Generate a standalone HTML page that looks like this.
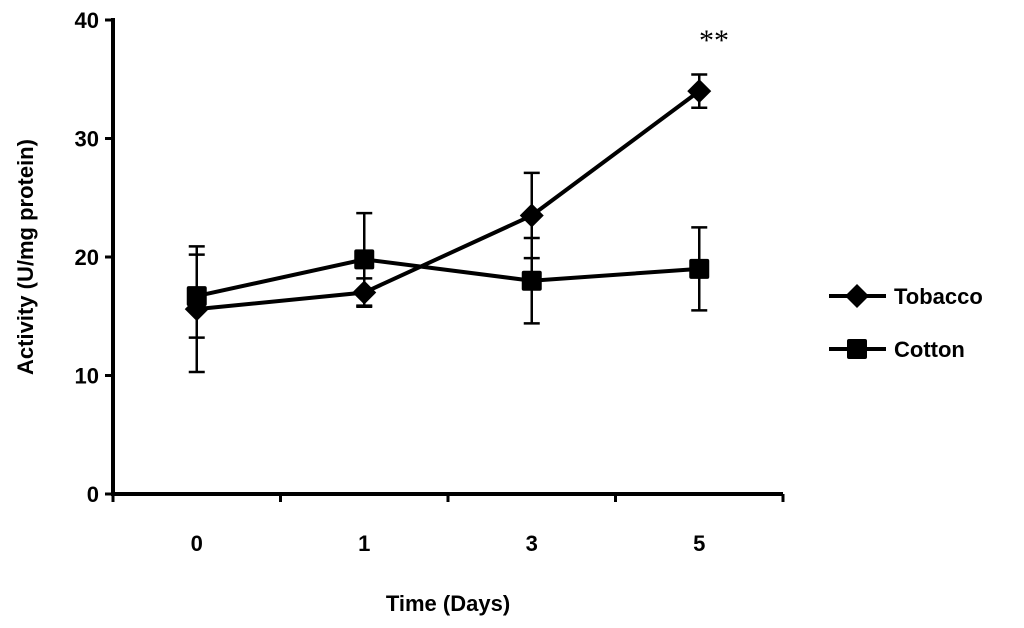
<!DOCTYPE html>
<html><head><meta charset="utf-8"><style>
html,body{margin:0;padding:0;background:#fff;}
svg{display:block;font-family:"Liberation Sans",Arial,sans-serif;}
</style></head><body>
<svg id="chart" width="1024" height="628">
<g id="axes"></g>
<g id="series"></g>
<text x="714" y="50" font-family="Liberation Serif,serif" font-size="30" text-anchor="middle">**</text>
<text x="448" y="611" font-size="22" font-weight="bold" text-anchor="middle">Time (Days)</text>
<text transform="translate(33,257) rotate(-90)" font-size="22" font-weight="bold" text-anchor="middle">Activity (U/mg protein)</text>
<g>
<g>
<line x1="829" y1="296" x2="886" y2="296" stroke="#000" stroke-width="4"/>
<path d="M857,284 L869,296 L857,308 L845,296 Z" fill="#000"/>
<text x="894" y="304" font-size="22" font-weight="bold">Tobacco</text></g>
<g>
<line x1="829" y1="349" x2="886" y2="349" stroke="#000" stroke-width="4"/>
<rect x="847" y="339" width="20" height="20" rx="2" fill="#000"/>
<text x="894" y="357" font-size="22" font-weight="bold">Cotton</text></g>
</g>
</svg>
<script>
const categories=["0","1","3","5"];
const yTicks=[0,10,20,30,40];
const tobacco=[15.6,17.0,23.5,34.0];
const tobaccoErr=[5.3,1.2,3.6,1.4];
const cotton=[16.7,19.8,18.0,19.0];
const cottonErr=[3.5,3.9,3.6,3.5];

const NS="http://www.w3.org/2000/svg";
const x0=113,x1=783,y0=494,yTop=20;
const band=(x1-x0)/categories.length;
function xs(i){return x0+band*(i+0.5)-(i===0?2:0)*0;}
function ys(v){return y0-(v/40)*(y0-yTop);}
function mk(tag,attrs,parent){const e=document.createElementNS(NS,tag);for(const k in attrs)e.setAttribute(k,attrs[k]);parent.appendChild(e);return e;}
const axes=document.getElementById('axes'),ser=document.getElementById('series');
let e=mk('line',{x1:x0,y1:yTop-2,x2:x0,y2:y0,stroke:'#000','stroke-width':4},axes);


e=mk('line',{x1:x0-2,y1:y0,x2:x1,y2:y0,stroke:'#000','stroke-width':4},axes);


yTicks.forEach(t=>{
  mk('line',{x1:x0-8,y1:ys(t),x2:x0,y2:ys(t),stroke:'#000','stroke-width':3},axes);
  const tx=mk('text',{x:x0-14,y:ys(t)+8,'font-size':22,'font-weight':'bold','text-anchor':'end'},axes);
  tx.textContent=t;
  
  
});
for(let i=0;i<=categories.length;i++){
  const x=x0+band*i;
  mk('line',{x1:x,y1:y0,x2:x,y2:y0+8,stroke:'#000','stroke-width':3},axes);
}
categories.forEach((c,i)=>{
  const tx=mk('text',{x:xs(i),y:y0+57,'font-size':22,'font-weight':'bold','text-anchor':'middle'},axes);
  tx.textContent=c;
  
  
});
function drawSeries(vals,errs,name,marker){
  const g=mk('g',{},ser);
  
  
  vals.forEach((v,i)=>{
    const x=xs(i),t=ys(v+errs[i]),b=ys(v-errs[i]);
    mk('line',{x1:x,y1:t,x2:x,y2:b,stroke:'#000','stroke-width':2.5},g);
    mk('line',{x1:x-8,y1:t,x2:x+8,y2:t,stroke:'#000','stroke-width':2.5},g);
    mk('line',{x1:x-8,y1:b,x2:x+8,y2:b,stroke:'#000','stroke-width':2.5},g);
  });
  mk('polyline',{points:vals.map((v,i)=>xs(i)+','+ys(v)).join(' '),fill:'none',stroke:'#000','stroke-width':4},g);
  vals.forEach((v,i)=>{
    const x=xs(i),y=ys(v);let m;
    if(marker==='d') m=mk('path',{d:`M${x},${y-12} L${x+12},${y} L${x},${y+12} L${x-12},${y} Z`,fill:'#000'},g);
    else m=mk('rect',{x:x-10,y:y-10,width:20,height:20,rx:2,fill:'#000'},g);
    
    
  });
}
drawSeries(cotton,cottonErr,'cotton','s');
drawSeries(tobacco,tobaccoErr,'tobacco','d');
</script>
</body></html>
